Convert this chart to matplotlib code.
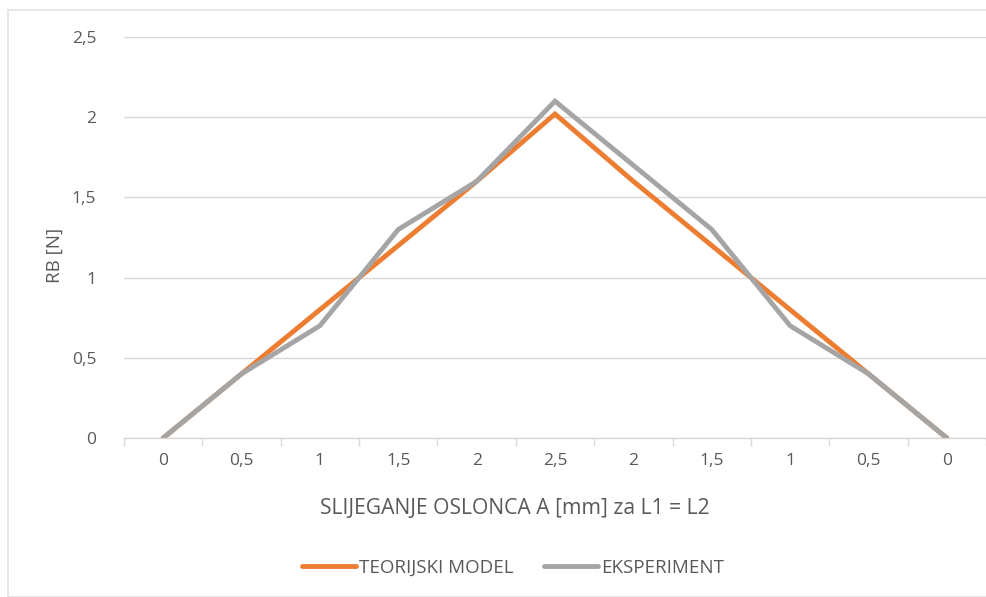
import numpy as np
import matplotlib.pyplot as plt
from matplotlib.patches import Rectangle

# data
kategorije = ['0', '0,5', '1', '1,5', '2', '2,5', '2', '1,5', '1', '0,5', '0']
teorijski = [0, 0.4, 0.8, 1.2, 1.6, 2.02, 1.6, 1.2, 0.8, 0.4, 0]
eksperiment = [0, 0.4, 0.7, 1.3, 1.6, 2.1, 1.7, 1.3, 0.7, 0.4, 0]
y_ticks = [0, 0.5, 1, 1.5, 2, 2.5]
y_labels = ['0', '0,5', '1', '1,5', '2', '2,5']

plt.rcParams['font.family'] = ['Open Sans', 'DejaVu Sans']
txt = '#595959'
grid = '#D9D9D9'

fig = plt.figure(figsize=(9.86, 5.97), dpi=100)
W, H = 986, 597

# okvir grafikona
fig.patches.append(Rectangle((8 / W, 0), 1.2, 1 - 10 / H, transform=fig.transFigure,
                             fill=False, edgecolor='#E3E3E3', linewidth=1.2))

ax = fig.add_axes([124 / W, 159 / H, 862 / W, 401 / H])
x = np.arange(len(kategorije))
ax.plot(x, teorijski, color='#ED7D31', linewidth=3.5, solid_capstyle='round',
        solid_joinstyle='miter', label='TEORIJSKI MODEL', zorder=3)
ax.plot(x, eksperiment, color='#A5A5A5', linewidth=3.5, solid_capstyle='round',
        solid_joinstyle='miter', label='EKSPERIMENT', zorder=4)

ax.set_xlim(-0.5, len(kategorije) - 0.5)
ax.set_ylim(0, 2.5)
ax.set_yticks(y_ticks)
ax.set_yticklabels(y_labels)
ax.set_xticks(x)
ax.set_xticklabels(kategorije)
ax.set_xticks(np.arange(-0.5, len(kategorije)), minor=True)
ax.tick_params(axis='x', which='major', length=0, pad=11, labelsize=12.5, labelcolor=txt)
ax.tick_params(axis='x', which='minor', length=6, width=1, color=grid, direction='out')
ax.tick_params(axis='y', length=0, pad=20, labelsize=12.5, labelcolor=txt)

ax.grid(axis='y', color=grid, linewidth=1)
ax.set_axisbelow(True)
for s in ['top', 'right', 'left']:
    ax.spines[s].set_visible(False)
ax.spines['bottom'].set_color(grid)
ax.spines['bottom'].set_linewidth(1)
ax.spines['bottom'].set_zorder(1)

fig.text(515 / W, 1 - 508 / H, 'SLIJEGANJE OSLONCA A [mm] za L1 = L2', ha='center', va='center',
         fontsize=15.2, color=txt)
fig.text(55 / W, 1 - 255 / H, 'RB [N]', ha='center', va='center', rotation=90,
         fontsize=13.5, color=txt)

fig.legend(loc='center', bbox_to_anchor=(513 / W, 1 - 568 / H), ncol=2, frameon=False,
           fontsize=13.5, labelcolor=txt, handlelength=2.9, handletextpad=0.15,
           columnspacing=1.6)

plt.savefig('out.png', dpi=100)
